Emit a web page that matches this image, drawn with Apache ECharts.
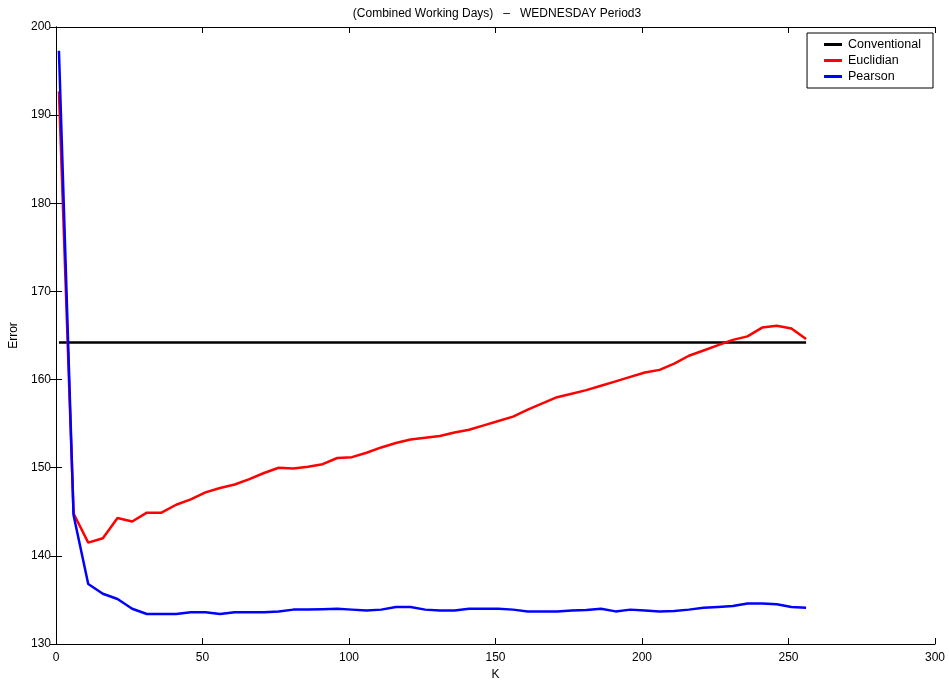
<!DOCTYPE html>
<html>
<head>
<meta charset="utf-8">
<script src="https://cdn.jsdelivr.net/npm/echarts@6/dist/echarts.min.js"></script>
<style>
  html, body { margin: 0; padding: 0; background: #fff; }
  #main { width: 949px; height: 681px; }
</style>
</head>
<body>
<div id="main"></div>
<script>
// K values: 1, 6, 11, ... 256
var kValues = [1, 6, 11, 16, 21, 26, 31, 36, 41, 46, 51, 56, 61, 66, 71, 76, 81, 86, 91, 96,
  101, 106, 111, 116, 121, 126, 131, 136, 141, 146, 151, 156, 161, 166, 171, 176, 181, 186, 191, 196,
  201, 206, 211, 216, 221, 226, 231, 236, 241, 246, 251, 256]

var conventionalError = 164.2

var euclidianError = [192.7, 144.8, 141.5, 142.0, 144.3, 143.9, 144.9, 144.9, 145.8, 146.4,
  147.2, 147.7, 148.1, 148.7, 149.4, 150.0, 149.9, 150.1, 150.4, 151.1,
  151.2, 151.7, 152.3, 152.8, 153.2, 153.4, 153.6, 154.0, 154.3, 154.8,
  155.3, 155.8, 156.6, 157.3, 158.0, 158.4, 158.8, 159.3, 159.8, 160.3,
  160.8, 161.1, 161.8, 162.7, 163.3, 163.9, 164.5, 164.9, 165.9, 166.1,
  165.8, 164.6]

var pearsonError = [197.3, 144.6, 136.8, 135.7, 135.1, 134.0, 133.4, 133.4, 133.4, 133.6,
  133.6, 133.4, 133.6, 133.6, 133.6, 133.7, 133.9, 133.9, 133.95, 134.0,
  133.9, 133.8, 133.9, 134.2, 134.2, 133.9, 133.8, 133.8, 134.0, 134.0,
  134.0, 133.9, 133.7, 133.7, 133.7, 133.8, 133.85, 134.0, 133.7, 133.9,
  133.8, 133.7, 133.75, 133.9, 134.1, 134.2, 134.3, 134.6, 134.6, 134.5,
  134.2, 134.1]

function pairs (xs, ys) {
  return xs.map(function (x, i) { return [x, ys[i]] })
}

var font = 'Liberation Sans, Arial, sans-serif'
var chart = echarts.init(document.getElementById('main'))

var axisCommon = {
  axisLine: { lineStyle: { color: '#000', width: 1 } },
  axisTick: { inside: true, length: 6, lineStyle: { color: '#000' } },
  splitLine: { show: false }
}

chart.setOption({
  animation: false,
  backgroundColor: '#fff',
  title: {
    text: '(Combined Working Days)   \u2013   WEDNESDAY Period3',
    left: 492,
    textAlign: 'center',
    top: 3,
    textStyle: { fontFamily: font, fontSize: 12, fontWeight: 'normal', color: '#000' }
  },
  legend: {
    orient: 'vertical',
    right: 16,
    top: 33,
    backgroundColor: '#fff',
    borderColor: '#000',
    borderWidth: 1,
    padding: [4, 12, 4, 17],
    itemGap: 1,
    itemWidth: 18,
    itemHeight: 3,
    icon: 'rect',
    textStyle: { fontFamily: font, fontSize: 12.5, color: '#000', lineHeight: 15, padding: [0, 0, 0, 1] },
    data: ['Conventional', 'Euclidian', 'Pearson']
  },
  grid: { left: 56, right: 14, top: 27, bottom: 37, containLabel: false, outerBoundsMode: 'none' },
  xAxis: [
    Object.assign({}, axisCommon, {
      type: 'value', min: 0, max: 300, interval: 50, position: 'bottom',
      name: 'K', nameLocation: 'middle', nameGap: 21,
      nameTextStyle: { fontFamily: font, fontSize: 12, color: '#000' },
      axisLabel: { fontFamily: font, fontSize: 12, color: '#000', margin: 8 }
    }),
    Object.assign({}, axisCommon, {
      type: 'value', min: 0, max: 300, interval: 50, position: 'top',
      axisLabel: { show: false }
    })
  ],
  yAxis: [
    Object.assign({}, axisCommon, {
      type: 'value', min: 130, max: 200, interval: 10, position: 'left',
      name: 'Error', nameLocation: 'middle', nameGap: 34,
      nameTextStyle: { fontFamily: font, fontSize: 12, color: '#000' },
      axisLabel: { fontFamily: font, fontSize: 12, color: '#000', margin: 5 }
    }),
    Object.assign({}, axisCommon, {
      type: 'value', min: 130, max: 200, interval: 10, position: 'right',
      axisLabel: { show: false }
    })
  ],
  series: [
    {
      name: 'Conventional',
      type: 'line',
      showSymbol: false,
      itemStyle: { color: '#000' },
      lineStyle: { color: '#000', width: 2.5 },
      data: [[kValues[0], conventionalError], [kValues[kValues.length - 1], conventionalError]]
    },
    {
      name: 'Euclidian',
      type: 'line',
      showSymbol: false,
      itemStyle: { color: '#ff0000' },
      lineStyle: { color: '#ff0000', width: 2.5 },
      data: pairs(kValues, euclidianError)
    },
    {
      name: 'Pearson',
      type: 'line',
      showSymbol: false,
      itemStyle: { color: '#0000ff' },
      lineStyle: { color: '#0000ff', width: 2.5 },
      data: pairs(kValues, pearsonError)
    }
  ]
})
</script>
</body>
</html>
